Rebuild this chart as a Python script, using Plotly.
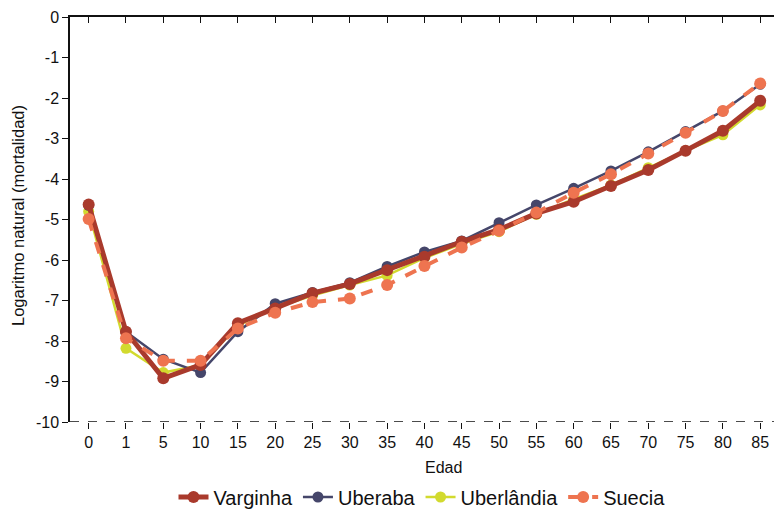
import plotly.graph_objects as go

# Age groups (categorical x axis)
edades = ["0", "1", "5", "10", "15", "20", "25", "30", "35", "40",
          "45", "50", "55", "60", "65", "70", "75", "80", "85"]

# Natural log of mortality by age
varginha = [-4.63, -7.77, -8.92, -8.59, -7.56, -7.20, -6.82, -6.59, -6.25, -5.92,
            -5.55, -5.25, -4.85, -4.56, -4.17, -3.78, -3.30, -2.81, -2.07]
uberaba = [-4.65, -7.77, -8.45, -8.78, -7.77, -7.08, -6.80, -6.56, -6.16, -5.80,
           -5.53, -5.08, -4.64, -4.23, -3.80, -3.33, -2.83, -2.32, -1.66]
uberlandia = [-4.80, -8.18, -8.78, -8.60, -7.62, -7.18, -6.88, -6.62, -6.38, -5.95,
              -5.60, -5.30, -4.87, -4.50, -4.15, -3.72, -3.30, -2.91, -2.17]
suecia = [-4.99, -7.93, -8.49, -8.49, -7.69, -7.30, -7.04, -6.95, -6.62, -6.15,
          -5.69, -5.28, -4.83, -4.34, -3.88, -3.37, -2.86, -2.32, -1.64]

y_ticks = [0, -1, -2, -3, -4, -5, -6, -7, -8, -9, -10]

FONT = "Liberation Sans, Arial, sans-serif"
W, H = 774, 510
ML, MT, MB = 70, 17, 88

series = [
    # name, values, colour, line width, dash, marker size, legend rank
    ("Uberlândia", uberlandia, "#D2DA2E", 2.5, "solid", 11, 3),
    ("Uberaba", uberaba, "#45466A", 2.5, "solid", 11, 2),
    ("Varginha", varginha, "#A93A2C", 5, "solid", 12, 1),
    ("Suecia", suecia, "#EE7450", 4, "dash", 12, 4),
]

fig = go.Figure()
for name, vals, color, width, dash, msize, rank in series:
    fig.add_trace(go.Scatter(
        x=edades, y=vals, name=name, mode="lines+markers",
        line=dict(color=color, width=width, dash=dash),
        marker=dict(color=color, size=msize),
        legendrank=rank,
    ))

n = len(edades)
x_range = [-0.5, n - 1 + 0.37]
plot_w = W - ML
plot_h = H - MT - MB

fig.update_layout(
    width=W, height=H,
    margin=dict(l=ML, r=0, t=MT, b=MB, autoexpand=False),
    paper_bgcolor="white", plot_bgcolor="white",
    font=dict(family=FONT, size=14, color="#111111"),
    showlegend=True,
    legend=dict(orientation="h", x=0.5, xanchor="center",
                yref="container", y=(H - 497) / H, yanchor="middle",
                font=dict(size=20, family=FONT), itemwidth=30,
                traceorder="normal"),
    xaxis=dict(
        type="category", categoryorder="array", categoryarray=edades,
        range=x_range, showgrid=False, zeroline=False, showline=False,
        ticks="outside", ticklen=6, tickwidth=1.3, tickcolor="#111111",
        tickfont=dict(size=16), fixedrange=True, automargin=False,
    ),
    xaxis2=dict(
        overlaying="x", side="top", range=x_range,
        tickvals=list(range(n)), ticks="inside", ticklen=6, tickwidth=1.3,
        tickcolor="#111111", showticklabels=False, showgrid=False,
        zeroline=False, showline=True, linecolor="#111111", linewidth=1.5,
        automargin=False,
    ),
    yaxis=dict(
        range=[-10, 0], tickvals=y_ticks, ticktext=[str(v) for v in y_ticks],
        showgrid=False, zeroline=False, showline=True, linecolor="#111111",
        linewidth=1.5, ticks="outside", ticklen=6, tickwidth=1.3,
        tickcolor="#111111", tickfont=dict(size=16), automargin=False,
    ),
    annotations=[
        dict(text="Edad", x=(443 - ML) / plot_w, xref="paper",
             y=-(467 - (MT + plot_h)) / plot_h, yref="paper",
             showarrow=False, font=dict(size=16, family=FONT),
             xanchor="center", yanchor="middle"),
        dict(text="Logaritmo natural (mortalidad)", textangle=-90,
             x=(18 - ML) / plot_w, xref="paper",
             y=1 - (216 - MT) / plot_h, yref="paper",
             xanchor="center", yanchor="middle", showarrow=False,
             font=dict(size=16.5, family=FONT)),
    ],
    shapes=[
        dict(type="line", xref="paper", yref="y", x0=0, x1=1, y0=-10, y1=-10,
             line=dict(color="#111111", width=1.3, dash="dash")),
    ],
)

# Empty trace that makes the top axis render
fig.add_trace(go.Scatter(x=[0], y=[None], xaxis="x2", showlegend=False,
                         hoverinfo="skip"))

fig.write_html("out.html")
